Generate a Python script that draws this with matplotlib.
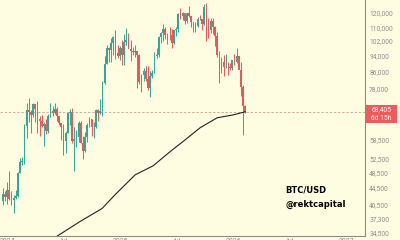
import pandas as pd
import matplotlib
matplotlib.use('Agg')
import matplotlib.pyplot as plt
import matplotlib.dates as mdates
from matplotlib.patches import Rectangle

# weekly BTC/USD candles, values in thousands of USD
weeks = pd.date_range('2023-12-18', periods=113, freq='7D')
opens = [41.4, 43.0, 42.3, 43.9, 41.7, 41.6, 42.0, 42.6, 48.3, 51.6, 51.7, 63.1, 68.9, 68.3, 67.2, 71.3,
         69.4, 65.7, 64.9, 63.1, 63.9, 61.5, 66.9, 68.5, 67.8, 69.6, 66.6, 64.2, 62.7, 58.0, 60.8, 68.1,
         68.2, 58.1, 58.7, 59.4, 64.2, 57.3, 54.8, 59.2, 63.3, 65.6, 62.8, 62.9, 69.0, 67.9, 68.7, 80.4,
         89.8, 97.9, 97.2, 101.1, 104.5, 95.2, 93.7, 98.3, 94.5, 101.3, 102.6, 97.7, 96.5, 96.1, 96.3, 94.3,
         80.7, 84.0, 86.1, 82.4, 78.4, 83.8, 85.2, 93.8, 94.3, 104.2, 106.5, 109.0, 105.7, 105.6, 105.5, 100.9,
         108.4, 109.2, 119.1, 117.3, 119.4, 114.2, 119.3, 117.4, 113.5, 108.2, 111.1, 115.3, 115.2, 112.1, 123.5, 115.1,
         108.6, 114.5, 110.5, 104.7, 94.3, 86.8, 90.4, 88.2, 88.3, 88.1, 87.8, 91.5, 90.6, 93.6, 86.5, 78.6, 70.5]
highs = [44.4, 43.8, 45.9, 49.0, 43.6, 42.8, 43.9, 48.6, 52.8, 52.9, 64.0, 72.0, 73.8, 68.9, 71.7, 71.3,
         72.8, 66.9, 67.2, 64.7, 65.5, 67.7, 71.9, 70.6, 72.0, 70.2, 66.9, 64.2, 63.8, 61.4, 68.4, 69.4,
         70.0, 62.7, 61.8, 65.0, 64.9, 59.8, 61.0, 64.1, 66.5, 65.6, 64.4, 69.4, 69.5, 73.6, 81.5, 93.5,
         99.6, 98.8, 104.0, 105.2, 108.4, 99.9, 99.0, 102.7, 106.4, 109.6, 106.5, 102.5, 98.8, 99.5, 96.5, 95.0,
         84.5, 87.5, 88.8, 88.5, 86.1, 86.5, 95.8, 97.9, 104.9, 107.1, 112.0, 110.7, 106.8, 110.6, 108.9, 108.5,
         110.5, 119.5, 123.2, 120.2, 119.8, 119.3, 124.5, 117.6, 113.6, 113.4, 116.8, 117.9, 115.4, 125.6, 126.2, 116.0,
         116.0, 116.4, 111.2, 107.5, 96.6, 93.1, 94.2, 94.6, 90.4, 90.0, 91.8, 94.8, 97.9, 93.7, 90.6, 79.4, 71.0]
lows = [40.5, 41.3, 40.7, 41.5, 40.3, 38.5, 41.8, 42.3, 48.3, 50.5, 50.9, 59.0, 64.5, 60.8, 66.5, 64.5,
        60.7, 59.6, 62.8, 56.5, 60.2, 60.8, 66.3, 66.6, 67.5, 65.1, 63.4, 58.4, 53.5, 54.3, 60.6, 63.5,
        57.2, 49.0, 56.1, 57.8, 57.2, 52.5, 54.5, 57.5, 62.6, 59.8, 58.9, 62.4, 65.0, 67.5, 66.8, 80.2,
        89.4, 90.8, 90.5, 94.2, 92.2, 92.6, 91.5, 89.3, 89.3, 99.5, 97.8, 91.2, 94.1, 93.4, 78.2, 80.0,
        76.6, 81.2, 81.6, 77.2, 74.5, 83.0, 85.1, 92.8, 93.4, 100.7, 102.0, 103.1, 100.4, 102.6, 98.2, 100.3,
        105.1, 107.5, 115.7, 114.7, 112.0, 112.7, 116.8, 110.6, 107.3, 107.3, 110.6, 114.7, 108.6, 111.6, 102.0, 103.5,
        106.8, 106.3, 98.9, 93.0, 80.6, 85.3, 83.8, 87.7, 84.4, 86.6, 86.8, 89.3, 90.0, 87.2, 74.6, 60.0, 68.0]
closes = [43.0, 42.3, 43.9, 41.7, 41.6, 42.0, 42.6, 48.3, 51.6, 51.7, 63.1, 68.9, 68.3, 67.2, 71.3, 69.4,
          65.7, 64.9, 63.1, 63.9, 61.5, 66.9, 68.5, 67.8, 69.6, 66.6, 64.2, 62.7, 58.0, 60.8, 68.1, 68.2,
          58.1, 58.7, 59.4, 64.2, 57.3, 54.8, 59.2, 63.3, 65.6, 62.8, 62.9, 69.0, 67.9, 68.7, 80.4, 89.8,
          97.9, 97.2, 101.1, 104.5, 95.2, 93.7, 98.3, 94.5, 101.3, 102.6, 97.7, 96.5, 96.1, 96.3, 94.3, 80.7,
          84.0, 86.1, 82.4, 78.4, 83.8, 85.2, 93.8, 94.3, 104.2, 106.5, 109.0, 105.7, 105.6, 105.5, 100.9, 108.4,
          109.2, 119.1, 117.3, 119.4, 114.2, 119.3, 117.4, 113.5, 108.2, 111.1, 115.3, 115.2, 112.1, 123.5, 115.1, 108.6,
          114.5, 110.5, 104.7, 94.3, 86.8, 90.4, 88.2, 88.3, 88.1, 87.8, 91.5, 90.6, 93.6, 86.5, 78.6, 70.5, 68.4]

# moving average line
ma_dates = pd.to_datetime(['2024-05-19', '2024-06-14', '2024-08-24', '2024-11-03', '2024-12-15', '2025-02-18',
                           '2025-04-17', '2025-06-11', '2025-07-30', '2025-09-16', '2025-11-10', '2026-01-01',
                           '2026-02-09'])
ma_vals = [33.0, 34.0, 36.8, 39.6, 42.8, 47.9, 50.4, 54.6, 58.4, 62.5, 66.1, 67.2, 68.4]

price_ticks = [120000, 110000, 102000, 94000, 86000, 78000, 70600, 58500, 52500, 48500, 44500,
               40500, 37300, 34500]
x_ticks = pd.to_datetime(['2024-01-01', '2024-07-01', '2025-01-01', '2025-07-01', '2026-01-01', '2026-07-01',
                          '2027-01-01'])
x_labels = ['2024', 'Jul', '2025', 'Jul', '2026', 'Jul', '2027']
last_price = 68405

bg = '#fffde1'
up = '#2fa898'
down = '#ec5656'

fig = plt.figure(figsize=(4, 2.4), dpi=100, facecolor=bg)
ax = fig.add_axes([0, 4 / 240, 365 / 400, 236 / 240])
ax.set_facecolor(bg)

x = mdates.date2num(weeks)
o = [v * 1000 for v in opens]
h = [v * 1000 for v in highs]
l = [v * 1000 for v in lows]
c = [v * 1000 for v in closes]
cols = [up if cc >= oo else down for oo, cc in zip(o, c)]
ax.vlines(x, l, h, colors=cols, lw=0.7, zorder=2)
ax.bar(x, [abs(cc - oo) for oo, cc in zip(o, c)], bottom=[min(oo, cc) for oo, cc in zip(o, c)],
       width=5.2, color=cols, lw=0, zorder=3)

ax.plot(mdates.date2num(ma_dates), [v * 1000 for v in ma_vals], color='#222222', lw=0.8, zorder=4)
ax.axhline(last_price, color='#c9a39a', lw=0.6, ls=(0, (3, 2)), zorder=1)

ax.set_yscale('log')
ax.set_ylim(33900, 128600)
ax.set_xlim(mdates.date2num(pd.Timestamp('2023-12-09')), mdates.date2num(pd.Timestamp('2027-03-03')))

ax.yaxis.tick_right()
ax.set_yticks(price_ticks)
ax.set_yticklabels([f'{t:,}' for t in price_ticks])
ax.yaxis.set_minor_locator(matplotlib.ticker.NullLocator())
ax.set_xticks(mdates.date2num(x_ticks))
ax.set_xticklabels(x_labels)
ax.tick_params(axis='y', length=0, pad=3, labelsize=4.8, labelcolor='#8c8c8c')
ax.tick_params(axis='x', length=0, pad=1.5, labelsize=5, labelcolor='#8c8c8c')
for lab in ax.get_yticklabels() + ax.get_xticklabels():
    lab.set_family('Roboto')

for s in ['top', 'left']:
    ax.spines[s].set_visible(False)
for s in ['right', 'bottom']:
    ax.spines[s].set_color('#8a8a8a')
    ax.spines[s].set_linewidth(0.8)

# current price tag
fig.patches.append(Rectangle((366 / 400, 1 - 123 / 240), 31 / 400, 18 / 240, transform=fig.transFigure,
                             facecolor='#f05a5a', edgecolor='none', zorder=5))
fig.text(381.5 / 400, 1 - 110 / 240, f'{last_price:,}', color='white', fontsize=4.8, family='Roboto',
         ha='center', va='center', zorder=6)
fig.text(381.5 / 400, 1 - 118 / 240, '6d 15h', color='white', fontsize=4.8, family='Roboto',
         ha='center', va='center', zorder=6)

fig.text(285 / 400, 1 - 190 / 240, 'BTC/USD', fontsize=6.0, weight='bold', color='black', va='center')
fig.text(285 / 400, 1 - 204 / 240, '@rektcapital', fontsize=6.0, weight='bold', color='black', va='center')

fig.savefig('out.png', dpi=100, facecolor=bg)
